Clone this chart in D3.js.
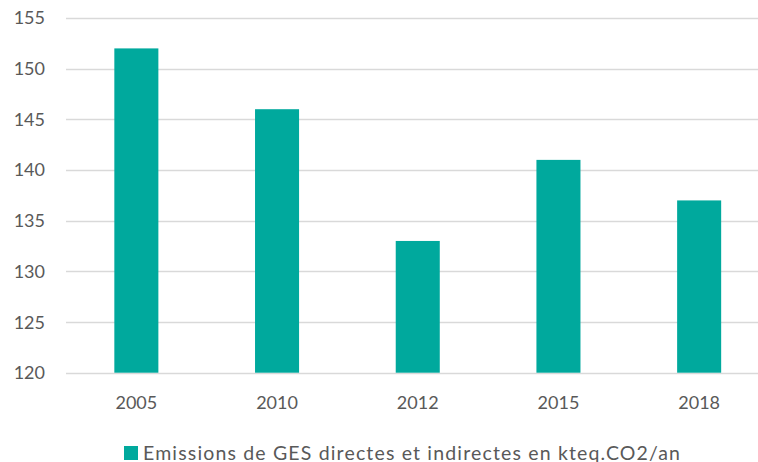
<!DOCTYPE html>
<html>
<head>
<meta charset="utf-8">
<script src="https://cdn.jsdelivr.net/npm/d3@7"></script>
<style>
  html, body { margin: 0; padding: 0; background: #fff; }
  svg { display: block; }
  text { font-family: Lato, "Open Sans", sans-serif; fill: #595959; }
</style>
</head>
<body>
<svg id="chart" width="758" height="462"></svg>
<script>
// Emissions per year (kteq.CO2/an)
const years = ["2005", "2010", "2012", "2015", "2018"];
const emissions = [152, 146, 133, 141, 137];
const yTicks = [120, 125, 130, 135, 140, 145, 150, 155];
const legendLabel = "Emissions de GES directes et indirectes en kteq.CO2/an";

const svg = d3.select("#chart");
const W = 758;
const barColor = "#00A99D";

const x = d3.scaleBand().domain(years).range([66, 769.5]).padding(0);
const y = d3.scaleLinear().domain([120, 155]).range([372.7, 18]);

// horizontal gridlines
svg.append("g").selectAll("line").data(yTicks).join("line")
  .attr("x1", 66).attr("x2", W)
  .attr("y1", d => Math.round(y(d)) + 0.5).attr("y2", d => Math.round(y(d)) + 0.5)
  .attr("stroke", "#d9d9d9").attr("stroke-width", 1.6);

// y axis labels
svg.append("g").selectAll("text").data(yTicks).join("text")
  .attr("x", 45).attr("y", d => y(d))
  .attr("dy", "0.36em")
  .attr("text-anchor", "end")
  .attr("font-size", 18)
  .text(d => d);

// bars
const barW = x.bandwidth() * 0.313;
svg.append("g").selectAll("rect").data(years).join("rect")
  .attr("x", d => x(d) + x.bandwidth() / 2 - barW / 2)
  .attr("width", barW)
  .attr("y", (d, i) => y(emissions[i]))
  .attr("height", (d, i) => y(120) - y(emissions[i]))
  .attr("fill", barColor);

// x axis labels
svg.append("g").selectAll("text").data(years).join("text")
  .attr("x", d => x(d) + x.bandwidth() / 2)
  .attr("y", 409)
  .attr("text-anchor", "middle")
  .attr("font-size", 18)
  .text(d => d);

// legend
const lg = svg.append("g");
lg.append("rect").attr("x", 124).attr("y", 446).attr("width", 14).attr("height", 14).attr("fill", barColor);
lg.append("text").attr("x", 143).attr("y", 459.5)
  .attr("font-size", 19.5)
  .attr("textLength", 537).attr("lengthAdjust", "spacing")
  .text(legendLabel);
</script>
</body>
</html>
